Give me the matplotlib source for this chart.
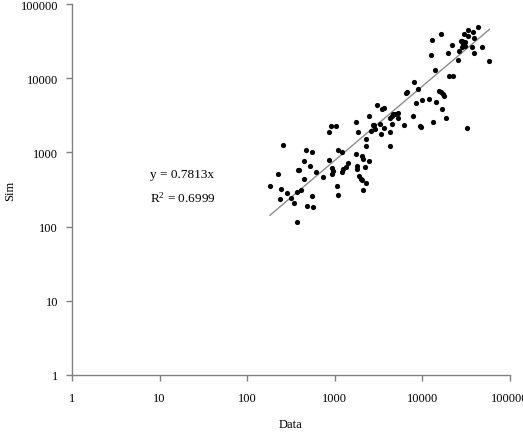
import numpy as np
import matplotlib
matplotlib.use("Agg")
import matplotlib.pyplot as plt
from matplotlib.ticker import FixedLocator, FixedFormatter, NullLocator

plt.rcParams['font.family'] = ['Liberation Serif', 'DejaVu Serif']

data_x = [182, 258, 226, 243, 237, 282, 316, 345, 367, 411,
          367, 478, 568, 553, 449, 377, 393, 449, 466, 553,
          521, 605, 739, 859, 922, 961, 936, 1069, 1096, 1096,
          1199, 1199, 1250, 1331, 1426, 859, 912, 1032, 1746, 1854,
          1746, 1806, 1806, 2028, 2115, 2477, 2213, 1889, 1991, 2028,
          2270, 2115, 2270, 2270, 2477, 3007, 3430, 3597, 2710, 2825,
          2570, 2877, 3281, 3342, 3673, 4266, 4266, 4266, 4498, 4677,
          4866, 5224, 5224, 4463, 6215, 7870, 9390, 9640, 13310, 18450,
          16870, 14300, 11990, 9770, 8390, 8090, 8830, 6450, 6620, 15460,
          16180, 17050, 17650, 20120, 22540, 13810, 12530, 12970, 16440, 19760,
          21600, 25700, 26370, 27360, 28520, 30620, 29310, 30620, 28110, 30080,
          33420, 33420, 37510, 38810, 43470, 36540, 38810, 47530, 58040, 32580]
sim_y = [356, 1259, 512, 321, 235, 284, 243, 206, 295, 314,
         114, 191, 184, 255, 438, 585, 585, 773, 1087, 1021,
         646, 539, 459, 798, 611, 567, 512, 356, 269, 1087,
         1021, 539, 598, 630, 719, 1901, 2291, 2291, 2545, 1901,
         951, 662, 598, 885, 815, 773, 642, 485, 438, 425,
         383, 314, 1516, 1219, 3124, 4395, 3846, 3966, 2340, 2340,
         1960, 2067, 2415, 1770, 2133, 1866, 1219, 2953, 3095, 3294,
         3343, 3396, 2883, 2415, 2340, 3124, 2291, 2179, 2545, 2883,
         3846, 4732, 5164, 5050, 4590, 8810, 7150, 6260, 6520, 6790,
         6460, 6120, 5810, 10610, 10610, 13020, 20550, 33030, 39430, 21860,
         28000, 17750, 23480, 32010, 32010, 31040, 28900, 27410, 26080, 39430,
         45060, 36700, 42350, 34500, 48530, 26080, 21860, 26080, 17210, 2113]

slope = 0.7813
r2 = 0.6999
tick_vals = [1, 10, 100, 1000, 10000, 100000]
tick_labels = ['1', '10', '100', '1000', '10000', '100000']

fig = plt.figure(figsize=(5.23, 4.35), dpi=100)
ax = fig.add_axes([72 / 523, 1 - 376 / 435, 438 / 523, 371 / 435])

ax.scatter(data_x, sim_y, s=14, color='black', zorder=3, linewidths=0)

# trend line through the origin
xs = np.array([min(data_x), max(data_x)])
ax.plot(xs, slope * xs, color='#8c8c8c', lw=1.0, zorder=2)

ax.set_xscale('log')
ax.set_yscale('log')
ax.set_xlim(1, 100000)
ax.set_ylim(1, 100000)

for axis in (ax.xaxis, ax.yaxis):
    axis.set_major_locator(FixedLocator(tick_vals))
    axis.set_major_formatter(FixedFormatter(tick_labels))
    axis.set_minor_locator(NullLocator())

for side in ('top', 'right'):
    ax.spines[side].set_visible(False)
for side in ('left', 'bottom'):
    ax.spines[side].set_color('#808080')
    ax.spines[side].set_linewidth(1.0)

ax.tick_params(axis='both', colors='#808080', labelcolor='black',
               labelsize=9, length=4, width=1.0, direction='out')
ax.tick_params(axis='x', pad=8)
ax.tick_params(axis='y', pad=6)

ax.set_xlabel('Data', fontsize=9, labelpad=10)
ax.set_ylabel('Sim', fontsize=9, labelpad=3)

fig.text(150 / 523, 1 - 175 / 435, 'y = %.4fx' % slope, fontsize=9.5, va='center')
fig.text(150 / 523, 1 - 198 / 435, '$\\mathregular{R^2}$ = %.4f' % r2, fontsize=9.5, va='center')

fig.savefig('out.png', dpi=100)
